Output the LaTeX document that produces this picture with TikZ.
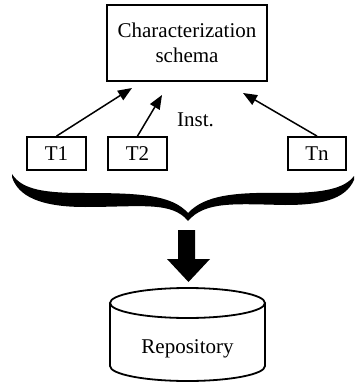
\documentclass[tikz,border=0pt]{standalone}
\usepackage{fontspec}
\setmainfont{Liberation Serif}
\usetikzlibrary{arrows.meta}
\begin{document}
\begin{tikzpicture}[x=1pt,y=-1pt,
  box/.style={draw,line width=1.8pt,inner sep=0pt,font=\fontsize{21}{25}\selectfont},
  lbl/.style={inner sep=0pt,font=\fontsize{21}{25}\selectfont},
  arr/.style={line width=1.5pt,-{Triangle[length=14pt,width=11pt]}}]
\useasboundingbox (0,0) rectangle (354,382);
\node[box,minimum width=160pt,minimum height=76pt,align=center] (cs) at (187,43) {Characterization\\schema};
\node[box,minimum width=59pt,minimum height=33pt] (t1) at (56.5,153.5) {T1};
\node[box,minimum width=59pt,minimum height=33pt] (t2) at (137.5,153.5) {T2};
\node[box,minimum width=58pt,minimum height=33pt] (tn) at (317,153.5) {Tn};
\node[lbl,anchor=base] (inst) at (195.5,127) {Inst.};
\coordinate (e1) at (132,88);
\coordinate (e2) at (162,95);
\coordinate (en) at (243,93);
\draw[arr] (t1.north) -- (e1);
\draw[arr] (t2.north) -- (e2);
\draw[arr] (tn.north) -- (en);
% brace
\fill (12,174) .. controls (22,190) and (45,193) .. (85,193)
  .. controls (140,193) and (172,195) .. (188,213)
  .. controls (205,195) and (235,192) .. (285,193)
  .. controls (325,193) and (345,188) .. (354,176)
  -- (354,180) .. controls (345,200) and (320,205) .. (285,205)
  .. controls (235,204) and (205,201) .. (188,221)
  .. controls (172,201) and (140,207) .. (85,207)
  .. controls (40,207) and (18,196) .. (12,177) -- cycle;
% thick arrow
\fill (178,230) -- (195,230) -- (195,259) -- (210,259) -- (188.5,282) -- (167,259) -- (178,259) -- cycle;
% cylinder
\draw[line width=1.8pt] (187.5,303) ellipse [x radius=77.5pt, y radius=15pt];
\draw[line width=1.8pt] (110,303) -- (110,366) arc[start angle=180,end angle=360,x radius=77.5pt,y radius=15pt] -- (265,303);
\node[lbl,anchor=base] (repo) at (187.5,353) {Repository};
\end{tikzpicture}
\end{document}
